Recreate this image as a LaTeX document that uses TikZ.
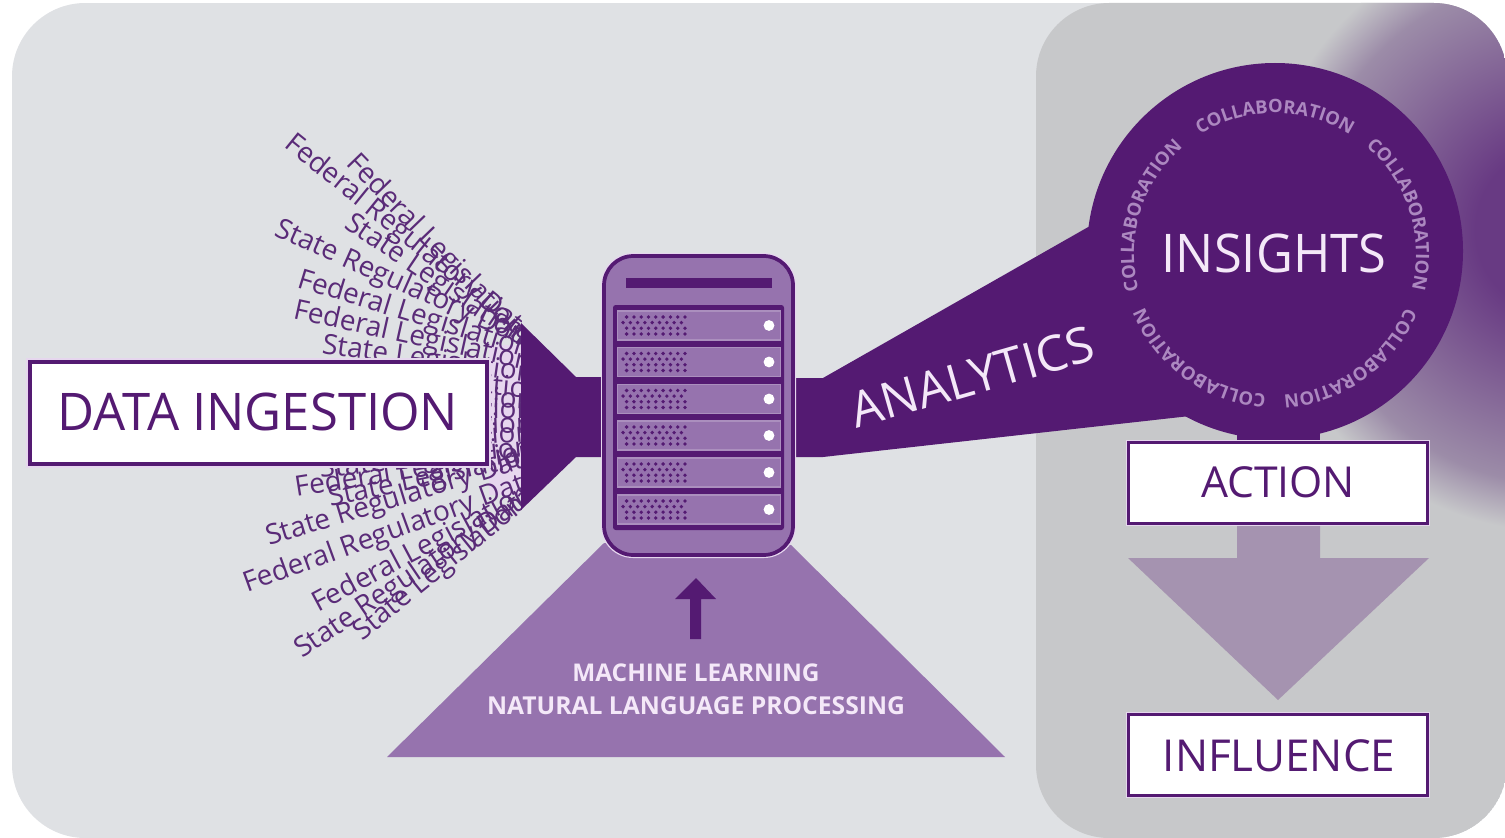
\documentclass[tikz,border=0pt]{standalone}
\usepackage{fontspec}
\setmainfont{Open Sans}
\usetikzlibrary{decorations.text}
\definecolor{bgc}{HTML}{DFE1E4}
\definecolor{panelc}{HTML}{C7C8CA}
\definecolor{deep}{HTML}{541A72}
\definecolor{mid}{HTML}{9673AE}
\definecolor{ink}{HTML}{5A2B78}
\definecolor{halo}{HTML}{E6D6EE}
\definecolor{arrowc}{HTML}{A593B0}
\definecolor{pale}{HTML}{F4E8F8}
\definecolor{coll}{HTML}{AC88C0}
\definecolor{glowc}{HTML}{683A83}
\definecolor{glowm}{HTML}{9C8CA8}
\pgfdeclareradialshading{glow}{\pgfpoint{0bp}{0bp}}{color(0bp)=(glowc);color(7bp)=(glowc);color(21bp)=(glowm);color(25bp)=(panelc);color(50bp)=(panelc)}
\tikzset{
  fanline/.style={anchor=base west,inner sep=0pt,text=ink,font=\fontsize{21}{23}\selectfont},
  boxhalo/.style={draw=halo,line width=3.6pt},
  slotbox/.style={fill=mid,draw=mid!80!white,line width=.8pt},
  colltext/.style={decorate,decoration={text along path,text align=center,
     text={|\fontsize{13.8}{16}\bfseries\selectfont\color{coll}|COLLABORATION}}}
}
\begin{document}
\begin{tikzpicture}[x=0.75pt,y=-0.75pt]
\useasboundingbox (0,0) rectangle (1505,838);
% backgrounds
\begin{scope}
  \clip[rounded corners=55pt] (12,3) rectangle (1507,838);
  \fill[bgc] (12,3) rectangle (1507,838);
  \fill[panelc,rounded corners=55pt] (1036,3) rectangle (1507,838);
  \begin{scope}
    \clip[rounded corners=55pt] (1036,3) rectangle (1507,838);
    \shade[shading=glow] (1560,230) circle[radius=302];
  \end{scope}
\end{scope}
% fan of source labels
\fill[halo] (489,345) rectangle (521,495);
\begin{scope}
  \clip (0,0) rectangle (521,838);
  \foreach \i/\px/\py/\ang/\txt in {
    1/345/164/-46/Federal Legislation,
    2/283/146/-39/Federal Regulatory Data,
    3/343/227/-34/State Legislation,
    4/273/235/-24/State Regulatory Data,
    5/296/287/-17/Federal Legislation,
    6/292/318/-12.5/Federal Legislation,
    7/321/353/-8/State Legislation,
    8/300/378/-5/Federal Legislation,
    9/320/398/-3/State Legislation,
    10/290/418/0/Federal Legislation,
    11/320/440/2/State Legislation,
    12/290/458/4/Federal Legislation,
    13/320/478/6/State Legislation,
    14/296/497/9/Federal Legislation,
    15/330/507/12/State Legislation,
    16/269/546/17/State Regulatory Data,
    17/247/593/20/Federal Regulatory Data,
    18/318/613/28/Federal Legislation,
    19/302/659/34/State Regulatory Data,
    20/362/642/39/State Legislation}
    {\node[fanline,rotate=\ang] (fan\i) at (\px,\py) {\txt};}
\end{scope}
% triangle base
\fill[mid] (604,543) -- (791,545) -- (1005,757) -- (387,757) -- cycle;
% funnel and analytics beam
\fill[deep] (521,323) -- (576,377) -- (604,377) -- (604,457) -- (576,457) -- (521,510) -- cycle;
\fill[deep] (794,378) -- (823,378) -- (1090,226) -- (1190,416) -- (823,457) -- (794,457) -- cycle;
% insights circle
\fill[deep] (1275,251) circle[radius=188];
\fill[deep] (1237,430) rectangle (1320,442);
\node[text=pale,inner sep=0pt,font=\fontsize{40}{44}\selectfont,xscale=.95,transform shape] (insights) at (1274,253) {INSIGHTS};
\begin{scope}[shift={(1275,254)},y=0.75pt]
  \path[colltext] (123:141) arc[start angle=123,end angle=57,radius=141];
  \path[colltext] (50.5:141) arc[start angle=50.5,end angle=-15,radius=141];
  \path[colltext] (-22:141) arc[start angle=-22,end angle=-87,radius=141];
  \path[colltext] (-94:141) arc[start angle=-94,end angle=-157.5,radius=141];
  \path[colltext] (195:141) arc[start angle=195,end angle=130.6,radius=141];
\end{scope}
\node[text=pale,inner sep=0pt,font=\fontsize{37}{40}\selectfont,rotate=16] (analytics) at (972,377) {ANALYTICS};
% data ingestion box
\draw[boxhalo] (28,360) rectangle (489,466);
\fill[white,draw=deep,line width=3.6pt] (30,362) rectangle (487,464);
\node[text=deep,inner sep=0pt,font=\fontsize{38.9}{42}\selectfont,xscale=.98,transform shape] (ingest) at (258,412) {DATA INGESTION};
% action & influence
\fill[arrowc] (1237,525) -- (1320,525) -- (1320,558) -- (1429,558) -- (1278,700) -- (1128,558) -- (1237,558) -- cycle;
\draw[boxhalo] (1128,442) rectangle (1428,524);
\fill[white,draw=deep,line width=2.6pt] (1128.5,442.5) rectangle (1427.5,523.5);
\node[text=deep,inner sep=0pt,font=\fontsize{32}{34}\selectfont] (action) at (1278,482) {ACTION};
\draw[boxhalo] (1128,714) rectangle (1428,796);
\fill[white,draw=deep,line width=2.6pt] (1128.5,714.5) rectangle (1427.5,795.5);
\node[text=deep,inner sep=0pt,font=\fontsize{33}{35}\selectfont] (influence) at (1279,756) {INFLUENCE};
% server
\fill[halo,rounded corners=24pt] (601,253) rectangle (796,558);
\fill[mid,draw=deep,line width=2.8pt,rounded corners=22pt] (604,256) rectangle (793,555);
\fill[deep] (626,278) rectangle (772,288);
\fill[deep,rounded corners=2pt] (613,305) rectangle (784,530);
\foreach \k/\st in {0/311,1/347.5,2/384.5,3/421,4/458,5/495}{
  \fill[slotbox] (617.5,\st) rectangle (780.5,\st+29);
  \fill[white] (769,\st+14.5) circle[radius=5.4];
  \foreach \r/\ro/\off in {0/6/3.6,1/11.6/0,2/17.2/3.6,3/23/3.6}{
    \foreach \c in {0,...,8}{
      \fill[deep] (623+\off+\c*7.3,\st+\ro) circle[radius=1.9];
    }
  }
}
% arrow under server
\fill[deep] (690,639) -- (701,639) -- (701,599) -- (716,599) -- (696,578) -- (675,599) -- (690,599) -- cycle;
\node[text=pale,inner sep=0pt,font=\fontsize{18.3}{20}\selectfont\bfseries] (ml) at (696,673) {MACHINE LEARNING};
\node[text=pale,inner sep=0pt,font=\fontsize{18.5}{20}\selectfont\bfseries] (nlp) at (696,706) {NATURAL LANGUAGE PROCESSING};
\end{tikzpicture}
\end{document}
